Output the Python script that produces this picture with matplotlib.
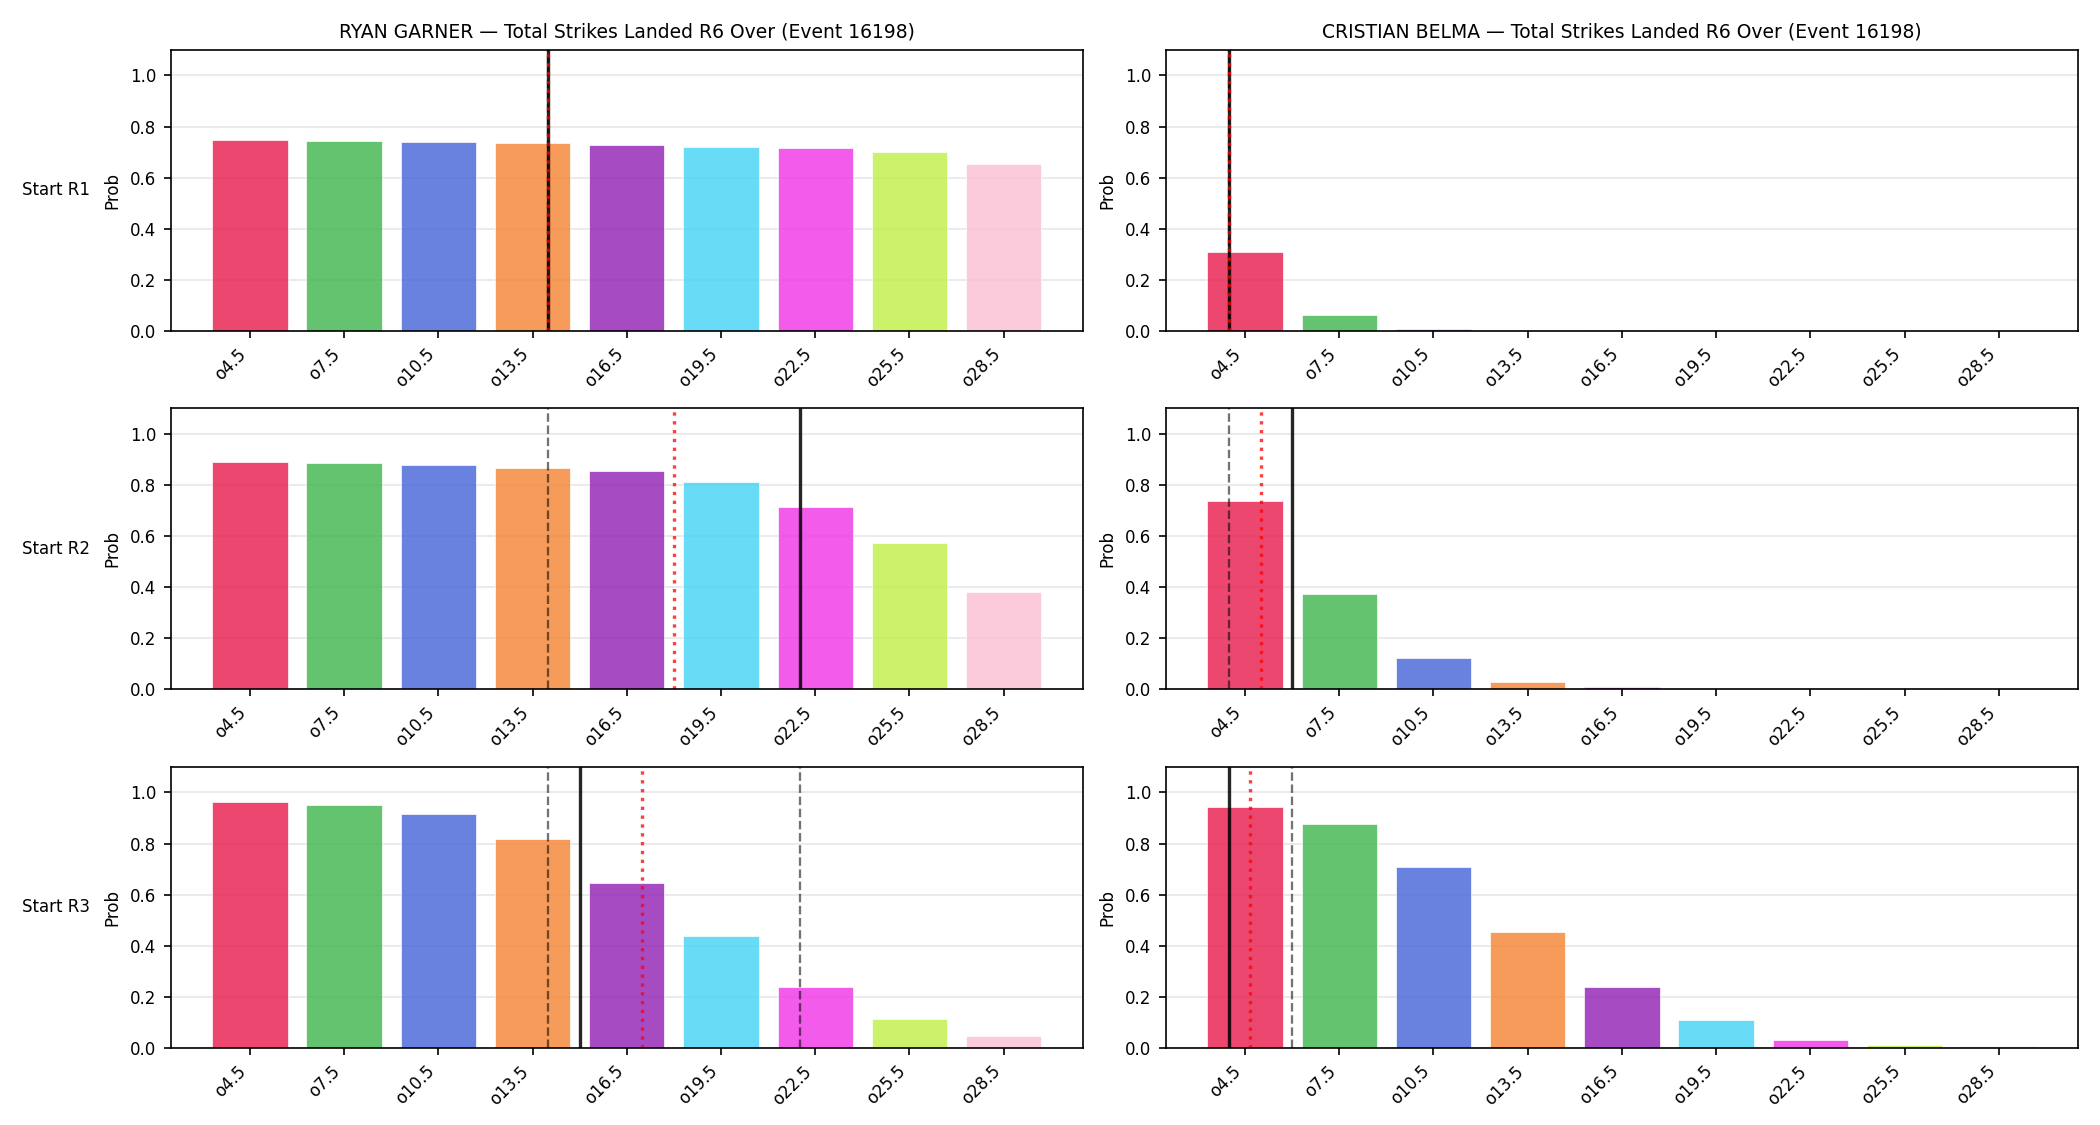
import numpy as np
import matplotlib
matplotlib.use("Agg")
import matplotlib.pyplot as plt

# over lines (strikes landed)
lines = [4.5, 7.5, 10.5, 13.5, 16.5, 19.5, 22.5, 25.5, 28.5]
tick_labels = [f"o{v}" for v in lines]

fighters = ["RYAN GARNER", "CRISTIAN BELMA"]
starts = ["Start R1", "Start R2", "Start R3"]

# P(over) per start round, per fighter
garner_r1 = [0.749, 0.745, 0.741, 0.737, 0.729, 0.721, 0.717, 0.702, 0.654]
garner_r2 = [0.891, 0.886, 0.878, 0.867, 0.856, 0.810, 0.714, 0.573, 0.380]
garner_r3 = [0.962, 0.950, 0.914, 0.816, 0.646, 0.437, 0.239, 0.113, 0.046]
belma_r1 = [0.307, 0.063, 0.005, 0.004, 0.004, 0.004, 0.004, 0.003, 0.003]
belma_r2 = [0.737, 0.373, 0.122, 0.027, 0.008, 0.006, 0.006, 0.005, 0.004]
belma_r3 = [0.942, 0.875, 0.709, 0.453, 0.237, 0.109, 0.031, 0.011, 0.007]

# reference markers (in strikes): dashed = quantiles, solid = median, dotted = mean
garner_dashed = [[14.0], [14.0], [14.0, 22.0]]
garner_solid = [14.0, 22.0, 15.0]
garner_dotted = [14.0, 18.0, 17.0]
belma_dashed = [[4.0], [4.0], [6.0]]
belma_solid = [4.0, 6.0, 4.0]
belma_dotted = [4.0, 5.0, 4.65]

colors = ['#e6194B', '#3cb44b', '#4363d8', '#f58231', '#911eb4',
          '#42d4f4', '#f032e6', '#bfef45', '#fabed4']

probs = [[garner_r1, belma_r1], [garner_r2, belma_r2], [garner_r3, belma_r3]]
dashed = [garner_dashed, belma_dashed]
solid = [garner_solid, belma_solid]
dotted = [garner_dotted, belma_dotted]


def to_idx(v):
    # map a strike count onto the bar index axis
    return (v - lines[0]) / (lines[1] - lines[0])


fig, axes = plt.subplots(3, 2, figsize=(14, 7.5), dpi=150)
fig.subplots_adjust(left=0.0813, right=0.9895, bottom=0.0687, top=0.9556,
                    wspace=0.091, hspace=0.277)

x = np.arange(len(lines))
for r in range(3):
    for c in range(2):
        ax = axes[r, c]
        ax.bar(x, probs[r][c], width=0.8, color=colors, alpha=0.8,
               edgecolor='white', linewidth=0.4)
        for d in dashed[c][r]:
            ax.axvline(to_idx(d), color='black', alpha=0.55, ls='--', lw=1.1)
        ax.axvline(to_idx(solid[c][r]), color='black', alpha=0.85, lw=1.6)
        ax.axvline(to_idx(dotted[c][r]), color='red', alpha=0.75, ls=':', lw=1.6)
        ax.set_ylim(0, 1.1)
        ax.set_xticks(x)
        ax.set_xticklabels(tick_labels, rotation=45, ha='right', fontsize=8)
        ax.tick_params(axis='y', labelsize=8)
        ax.set_ylabel("Prob", fontsize=8)
        ax.grid(axis='y', alpha=0.3)
        ax.set_axisbelow(True)
        if r == 0:
            ax.set_title(f"{fighters[c]} — Total Strikes Landed R6 Over (Event 16198)",
                         fontsize=9)
        if c == 0:
            ax.text(-0.088, 0.5, starts[r], transform=ax.transAxes,
                    ha='right', va='center', fontsize=8)

fig.savefig("out.png", dpi=150)
